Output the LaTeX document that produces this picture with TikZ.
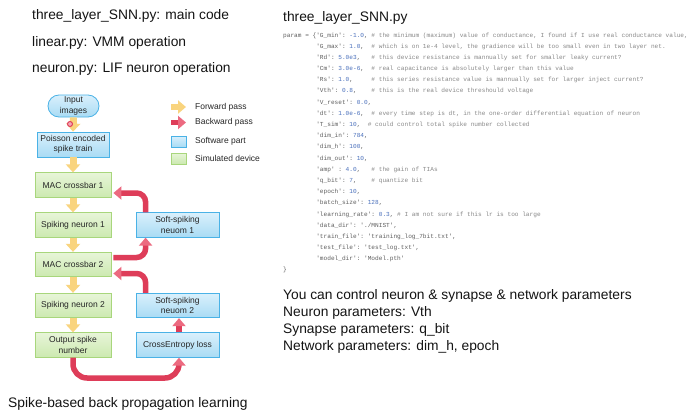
\documentclass[tikz,border=0pt]{standalone}
\usepackage{fontspec}
\setmainfont{Liberation Sans}
\setmonofont{Liberation Mono}
\usetikzlibrary{arrows.meta,calc}
\definecolor{bluetop}{HTML}{D9F0FC}
\definecolor{bluebot}{HTML}{A9DBF4}
\definecolor{bluedraw}{HTML}{4AB2E6}
\definecolor{greentop}{HTML}{E7F5D8}
\definecolor{greenbot}{HTML}{CCE9B0}
\definecolor{greendraw}{HTML}{A8D67C}
\definecolor{yel}{HTML}{F9D47E}
\definecolor{redc}{HTML}{DE3D59}
\definecolor{redtip}{HTML}{EC6A80}
\definecolor{codetxt}{HTML}{5E5E5E}
\definecolor{codenum}{HTML}{4A70BC}
\definecolor{codecom}{HTML}{888888}
\newcommand\boxfont{\fontsize{8.5}{10.3}\selectfont}
\newcommand\bigtxt{\fontsize{13.8}{16}\selectfont}
\newcommand\codetxtfont{\fontsize{6.13}{7}\selectfont\ttfamily}
\newcommand\cn[1]{\textcolor{codenum}{#1}}
\newcommand\cc[1]{\textcolor{codecom}{#1}}
\newcommand\ind{~~~~~~~~~}
\begin{document}
\begin{tikzpicture}[x=1pt,y=-1pt,
  sbox/.style={draw=bluedraw, line width=0.8pt, top color=bluetop, bottom color=bluebot,
    minimum width=83pt, minimum height=24.5pt, inner sep=1pt, align=center, font=\boxfont, text=black!85},
  gbox/.style={draw=greendraw, line width=0.8pt, top color=greentop, bottom color=greenbot,
    minimum width=76pt, minimum height=24.5pt, inner sep=1pt, align=center, font=\boxfont, text=black!85},
  yarr/.style={draw=yel, line width=7pt, -{Triangle[width=14pt,length=8pt]}},
  yarrleg/.style={draw=yel, line width=6pt, -{Triangle[width=13pt,length=8pt]}},
  rarr/.style={draw=redc, line width=5.5pt, rounded corners=9pt, -{Triangle[width=13pt,length=8pt,color=redtip]}},
  legtext/.style={anchor=west, inner sep=0, font=\boxfont, text=black!85},
  bigtext/.style={anchor=base west, inner sep=0, font=\bigtxt, text=black!92},
  codeline/.style={anchor=base west, inner sep=0, font=\codetxtfont, text=codetxt}
]
\fill[white] (0,0) rectangle (691,415);
\useasboundingbox (0,0) rectangle (691,415);

% top-left texts
\node[bigtext] (t1) at (32,19.5) {three\_layer\_SNN.py: main code};
\node[bigtext] (t2) at (32,46) {linear.py: VMM operation};
\node[bigtext] (t3) at (32,72.8) {neuron.py: LIF neuron operation};
\node[bigtext] (cap) at (8,407) {Spike-based back propagation learning};

% right texts
\node[bigtext] (title) at (283,21.5) {three\_layer\_SNN.py};
\node[bigtext] (r1) at (283,299.5) {You can control neuron \& synapse \& network parameters};
\node[bigtext] (r2) at (283,316.5) {Neuron parameters: Vth};
\node[bigtext] (r3) at (283,333.5) {Synapse parameters: q\_bit};
\node[bigtext] (r4) at (283,350) {Network parameters: dim\_h, epoch};

% code
\node[codeline] (c0) at (283,37) {param = \{'G\_min': \cn{-1.0}, \cc{\# the minimum (maximum) value of conductance, I found if I use real conductance value,}};
\node[codeline] (c1) at (283,48.19) {\ind'G\_max': \cn{1.0},~~\cc{\# which is on 1e-4 level, the gradience will be too small even in two layer net.}};
\node[codeline] (c2) at (283,59.38) {\ind'Rd': \cn{5.0e3},~~~\cc{\# this device resistance is mannually set for smaller leaky current?}};
\node[codeline] (c3) at (283,70.57) {\ind'Cm': \cn{3.0e-6},~~\cc{\# real capacitance is absolutely larger than this value}};
\node[codeline] (c4) at (283,81.76) {\ind'Rs': \cn{1.0},~~~~~\cc{\# this series resistance value is mannually set for larger inject current?}};
\node[codeline] (c5) at (283,92.95) {\ind'Vth': \cn{0.8},~~~~\cc{\# this is the real device threshould voltage}};
\node[codeline] (c6) at (283,104.14) {\ind'V\_reset': \cn{0.0},};
\node[codeline] (c7) at (283,115.33) {\ind'dt': \cn{1.0e-6},~~\cc{\# every time step is dt, in the one-order differential equation of neuron}};
\node[codeline] (c8) at (283,126.52) {\ind'T\_sim': \cn{10},~~\cc{\# could control total spike number collected}};
\node[codeline] (c9) at (283,137.71) {\ind'dim\_in': \cn{784},};
\node[codeline] (c10) at (283,148.9) {\ind'dim\_h': \cn{100},};
\node[codeline] (c11) at (283,160.09) {\ind'dim\_out': \cn{10},};
\node[codeline] (c12) at (283,171.28) {\ind'amp' : \cn{4.0},~~~\cc{\# the gain of TIAs}};
\node[codeline] (c13) at (283,182.47) {\ind'q\_bit': \cn{7},~~~~\cc{\# quantize bit}};
\node[codeline] (c14) at (283,193.66) {\ind'epoch': \cn{10},};
\node[codeline] (c15) at (283,204.85) {\ind'batch\_size': \cn{128},};
\node[codeline] (c16) at (283,216.04) {\ind'learning\_rate': \cn{0.3}, \cc{\# I am not sure if this lr is too large}};
\node[codeline] (c17) at (283,227.23) {\ind'data\_dir': './MNIST',};
\node[codeline] (c18) at (283,238.42) {\ind'train\_file': 'training\_log\_7bit.txt',};
\node[codeline] (c19) at (283,249.61) {\ind'test\_file': 'test\_log.txt',};
\node[codeline] (c20) at (283,260.8) {\ind'model\_dir': 'Model.pth'};
\node[codeline] (c21) at (283,271.99) {\}};

% flow boxes
\node[sbox, minimum width=51pt, minimum height=22pt, rounded corners=11pt] (inp) at (73.5,106) {Input\\images};
\node[sbox, minimum width=72pt, minimum height=25pt] (pois) at (73,144.5) {Poisson encoded\\spike train};
\node[gbox] (mac1) at (73,185) {MAC crossbar 1};
\node[gbox] (sn1) at (73,225) {Spiking neuron 1};
\node[gbox] (mac2) at (73,264.5) {MAC crossbar 2};
\node[gbox] (sn2) at (73,305.5) {Spiking neuron 2};
\node[gbox] (out) at (73,345) {Output spike\\number};
\node[sbox] (soft1) at (177.5,225) {Soft-spiking\\neuom 1};
\node[sbox] (soft2) at (177.5,305.5) {Soft-spiking\\neuom 2};
\node[sbox] (ce) at (177.5,345) {CrossEntropy loss};

% forward arrows
\draw[yarr] (inp.south) -- (pois.north);
\draw[yarr] (pois.south) -- (mac1.north);
\draw[yarr] (mac1.south) -- (sn1.north);
\draw[yarr] (sn1.south) -- (mac2.north);
\draw[yarr] (mac2.south) -- (sn2.north);
\draw[yarr] (sn2.south) -- (out.north);

% backward arrows
\draw[rarr, shorten >=2pt] ($(soft1.north west)+(10,0)$) |- ($(mac1.east)+(0,8)$);
\draw[rarr, shorten <=2pt] ($(mac2.east)+(0,-7)$) -| ($(soft1.south west)+(10,0)$);
\draw[rarr, shorten >=2pt] ($(soft2.north west)+(10,0)$) |- ($(mac2.east)+(0,9)$);
\draw[rarr] ($(ce.north)+(1.5,0)$) -- ($(soft2.south)+(1.5,0)$);
\coordinate (loopb) at (120,378);
\draw[rarr, rounded corners=14pt] (out.south) |- (loopb) -| ($(ce.south)+(1.5,0)$);

% pointer dot
\node[circle, draw=redc, fill=redtip!60, line width=1pt, minimum size=5pt, inner sep=0] (dot) at (70,124) {};

% legend
\coordinate (fw1) at (171,107);
\coordinate (fw2) at (186,107);
\draw[yarrleg] (fw1) -- (fw2);
\coordinate (bw1) at (171,122.5);
\coordinate (bw2) at (186,122.5);
\draw[draw=redc, line width=5.5pt, -{Triangle[width=13pt,length=8pt,color=redtip]}] (bw1) -- (bw2);
\node[sbox, minimum width=15pt, minimum height=11pt] (lsw) at (178.5,141.5) {};
\node[gbox, minimum width=15pt, minimum height=11pt] (lsim) at (178.5,158.5) {};
\node[legtext] (lt1) at (195,107) {Forward pass};
\node[legtext] (lt2) at (195,122.7) {Backward pass};
\node[legtext] (lt3) at (195,141) {Software part};
\node[legtext] (lt4) at (195,158) {Simulated device};
\end{tikzpicture}
\end{document}
